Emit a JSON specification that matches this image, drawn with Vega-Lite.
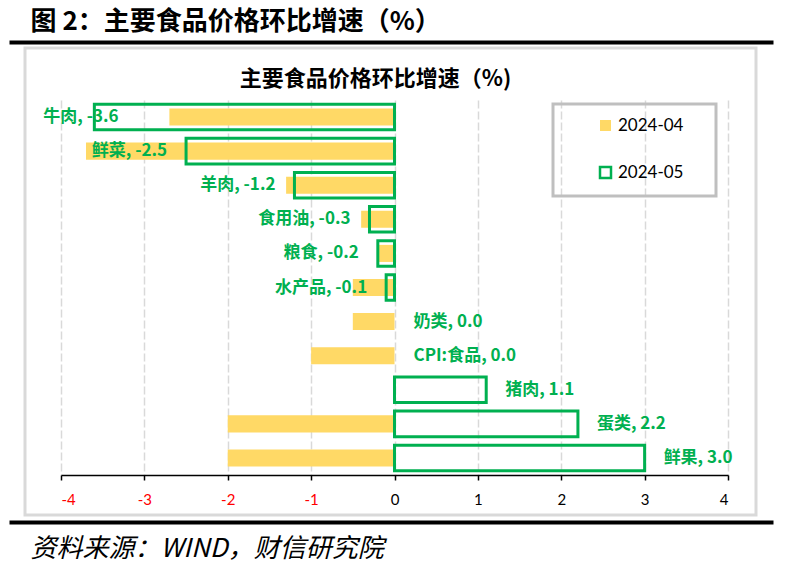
{
  "$schema": "https://vega.github.io/schema/vega-lite/v6.json",
  "width": 731,
  "height": 467,
  "autosize": {"type": "none"},
  "padding": {"left": 25, "top": 48, "right": 33, "bottom": 50},
  "background": "#ffffff",
  "data": {"values": [
    {"cat": "牛肉", "month": "2024-04", "value": -2.7},
    {"cat": "鲜菜", "month": "2024-04", "value": -3.7},
    {"cat": "羊肉", "month": "2024-04", "value": -1.3},
    {"cat": "食用油", "month": "2024-04", "value": -0.4},
    {"cat": "粮食", "month": "2024-04", "value": -0.2},
    {"cat": "水产品", "month": "2024-04", "value": -0.5},
    {"cat": "奶类", "month": "2024-04", "value": -0.5},
    {"cat": "CPI:食品", "month": "2024-04", "value": -1.0},
    {"cat": "猪肉", "month": "2024-04", "value": 0.0},
    {"cat": "蛋类", "month": "2024-04", "value": -2.0},
    {"cat": "鲜果", "month": "2024-04", "value": -2.0},
    {"cat": "牛肉", "month": "2024-05", "value": -3.6, "label": "牛肉, -3.6"},
    {"cat": "鲜菜", "month": "2024-05", "value": -2.5, "label": "鲜菜, -2.5"},
    {"cat": "羊肉", "month": "2024-05", "value": -1.2, "label": "羊肉, -1.2"},
    {"cat": "食用油", "month": "2024-05", "value": -0.3, "label": "食用油, -0.3"},
    {"cat": "粮食", "month": "2024-05", "value": -0.2, "label": "粮食, -0.2"},
    {"cat": "水产品", "month": "2024-05", "value": -0.1, "label": "水产品, -0.1"},
    {"cat": "奶类", "month": "2024-05", "value": 0.0, "label": "奶类, 0.0"},
    {"cat": "CPI:食品", "month": "2024-05", "value": 0.0, "label": "CPI:食品, 0.0"},
    {"cat": "猪肉", "month": "2024-05", "value": 1.1, "label": "猪肉, 1.1"},
    {"cat": "蛋类", "month": "2024-05", "value": 2.2, "label": "蛋类, 2.2"},
    {"cat": "鲜果", "month": "2024-05", "value": 3.0, "label": "鲜果, 3.0"}
  ]},
  "layer": [
    {
      "layer": [
        {
          "transform": [{"filter": "datum.month === '2024-04'"}],
          "mark": {"type": "bar", "height": {"band": 0.5}},
          "encoding": {
            "x": {"field": "value", "type": "quantitative",
              "scale": {"domain": [-4, 4], "range": [36, 703], "nice": false},
              "axis": {"orient": "bottom", "offset": -40, "grid": false, "domain": true, "domainColor": "#000000", "domainWidth": 1.5,
                "ticks": true, "tickColor": "#000000", "tickWidth": 1.5, "tickSize": 5, "values": [-4, -3, -2, -1, 0, 1, 2, 3, 4],
                "labelExpr": "'' + datum.value", "labelFont": "Lato", "labelFontSize": 15, "labelPadding": 12,
                "labelColor": {"condition": {"test": "datum.value < 0", "value": "#ff0000"}, "value": "#000000"}, "title": null}},
            "y": {"field": "cat", "type": "nominal", "sort": ["牛肉", "鲜菜", "羊肉", "食用油", "粮食", "水产品", "奶类", "CPI:食品", "猪肉", "蛋类", "鲜果"],
              "scale": {"range": [52, 427], "paddingInner": 0, "paddingOuter": 0}, "axis": null},
            "fill": {"field": "month", "type": "nominal",
              "scale": {"domain": ["2024-04", "2024-05"], "range": ["#ffd966", "transparent"]},
              "legend": {"orient": "none", "legendX": 528, "legendY": 56, "title": " ", "titleOrient": "right", "titlePadding": 20, "direction": "vertical"}}
          }
        },
        {
          "transform": [{"filter": "datum.month === '2024-05' && datum.value !== 0"}],
          "mark": {"type": "bar", "height": {"band": 0.75}, "strokeWidth": 3},
          "encoding": {
            "x": {"field": "value", "type": "quantitative",
              "scale": {"domain": [-4, 4], "range": [36, 703], "nice": false},
              "axis": {"orient": "top", "grid": true, "gridColor": "#d9d9d9", "gridDash": [8, 3], "gridWidth": 1.5,
                "domain": false, "ticks": false, "labels": false, "values": [-4, -3, -2, -1, 0, 1, 2, 3, 4],
                "title": "主要食品价格环比增速（%)", "titleFont": "Noto Sans CJK SC", "titleFontSize": 22, "titleFontWeight": "bold",
                "titleColor": "#000000", "titleX": 350, "titleY": 30, "titleAlign": "center", "titleBaseline": "middle"}},
            "y": {"field": "cat", "type": "nominal", "sort": ["牛肉", "鲜菜", "羊肉", "食用油", "粮食", "水产品", "奶类", "CPI:食品", "猪肉", "蛋类", "鲜果"], "axis": null},
            "fill": {"field": "month", "type": "nominal",
              "scale": {"domain": ["2024-04", "2024-05"], "range": ["#ffd966", "transparent"]},
              "legend": {"orient": "none", "legendX": 528, "legendY": 56, "title": " ", "titleOrient": "right", "titlePadding": 20, "direction": "vertical"}},
            "stroke": {"field": "month", "type": "nominal",
              "scale": {"domain": ["2024-04", "2024-05"], "range": ["transparent", "#00b050"]},
              "legend": {"orient": "none", "legendX": 528, "legendY": 56, "title": " ", "titleOrient": "right", "titlePadding": 20, "direction": "vertical"}}
          }
        },
        {
          "transform": [{"filter": "datum.month === '2024-05' && datum.value < 0 && datum.cat !== '牛肉'"}],
          "mark": {"type": "text", "align": "right", "baseline": "middle", "dx": -19, "font": "Noto Sans CJK SC", "fontSize": 17, "fontWeight": "bold", "fill": "#00b050"},
          "encoding": {
            "x": {"field": "value", "type": "quantitative", "axis": null},
            "y": {"field": "cat", "type": "nominal", "sort": ["牛肉", "鲜菜", "羊肉", "食用油", "粮食", "水产品", "奶类", "CPI:食品", "猪肉", "蛋类", "鲜果"], "axis": null},
            "text": {"field": "label", "type": "nominal"}
          }
        },
        {
          "transform": [{"filter": "datum.month === '2024-05' && datum.value >= 0"}],
          "mark": {"type": "text", "align": "left", "baseline": "middle", "dx": 19, "font": "Noto Sans CJK SC", "fontSize": 17, "fontWeight": "bold", "fill": "#00b050"},
          "encoding": {
            "x": {"field": "value", "type": "quantitative", "axis": null},
            "y": {"field": "cat", "type": "nominal", "sort": ["牛肉", "鲜菜", "羊肉", "食用油", "粮食", "水产品", "奶类", "CPI:食品", "猪肉", "蛋类", "鲜果"], "axis": null},
            "text": {"field": "label", "type": "nominal"}
          }
        },
        {
          "transform": [{"filter": "datum.month === '2024-05' && datum.cat === '牛肉'"}],
          "mark": {"type": "text", "align": "left", "baseline": "middle", "dx": -51, "font": "Noto Sans CJK SC", "fontSize": 17, "fontWeight": "bold", "fill": "#00b050"},
          "encoding": {
            "x": {"field": "value", "type": "quantitative", "axis": null},
            "y": {"field": "cat", "type": "nominal", "sort": ["牛肉", "鲜菜", "羊肉", "食用油", "粮食", "水产品", "奶类", "CPI:食品", "猪肉", "蛋类", "鲜果"], "axis": null},
            "text": {"field": "label", "type": "nominal"}
          }
        }
      ]
    },
    {
      "transform": [{"filter": "false"}],
      "mark": "point",
      "encoding": {
        "x": {"field": "value", "type": "quantitative",
          "scale": {"domain": [0, 1], "range": [-16, 748], "nice": false, "zero": false},
          "axis": {"orient": "top", "offset": 6, "domain": true, "domainColor": "#000000", "domainWidth": 4, "domainCap": "butt",
            "ticks": false, "labels": false, "grid": false,
            "title": "图 2：主要食品价格环比增速（%）", "titleFont": "Noto Sans CJK SC", "titleFontSize": 26, "titleFontWeight": "bold",
            "titleColor": "#000000", "titleX": 5, "titleY": -21, "titleAlign": "left", "titleBaseline": "middle", "titleLimit": 700}}
      }
    },
    {
      "transform": [{"filter": "false"}],
      "mark": "point",
      "encoding": {
        "x": {"field": "value", "type": "quantitative",
          "scale": {"domain": [0, 1], "range": [-16, 748], "nice": false, "zero": false},
          "axis": {"orient": "bottom", "offset": 7, "domain": true, "domainColor": "#000000", "domainWidth": 4, "domainCap": "butt",
            "ticks": false, "labels": false, "grid": false,
            "title": "资料来源：WIND，财信研究院", "titleFont": "Noto Sans CJK SC", "titleFontSize": 26, "titleFontWeight": "normal", "titleFontStyle": "italic",
            "titleColor": "#000000", "titleX": 5, "titleY": 26, "titleAlign": "left", "titleBaseline": "middle"}}
      }
    }
  ],
  "resolve": {"scale": {"x": "independent"}, "axis": {"x": "independent"}},
  "config": {
    "view": {"stroke": "#d9d9d9", "strokeWidth": 3},
    "legend": {"strokeColor": "#bfbfbf", "strokeWidth": 3, "padding": 13, "symbolOffset": 31, "rowPadding": 26,
      "symbolType": "square", "symbolSize": 121, "symbolStrokeWidth": 2.5, "labelFont": "Lato", "labelFontSize": 17, "labelColor": "#000000"}
  }
}
